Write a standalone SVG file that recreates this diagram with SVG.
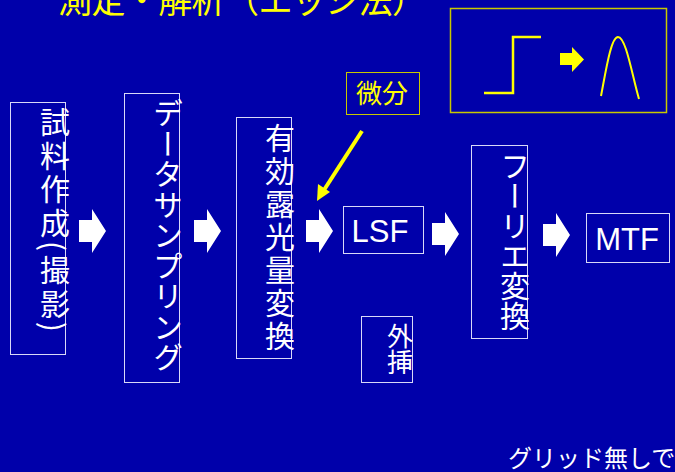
<svg xmlns="http://www.w3.org/2000/svg" width="675" height="472" viewBox="0 0 675 472">
<defs>
<style>
.box{fill:none;stroke:#d8d8f8;stroke-width:1}
.jp{font-family:"Noto Sans CJK JP","Liberation Sans",sans-serif;fill:#ffffff}
.vt{writing-mode:vertical-rl;font-size:30px}
.lat{font-family:"Liberation Sans",Arial,sans-serif;fill:#ffffff;font-size:31px}
.arrow{fill:#ffffff}
.yl{fill:none;stroke:#ffff00}
</style>
<path id="blk" d="M0,11 H13 V0 L27,22 L13,44 V33 H0 Z"/>
</defs>
<rect width="675" height="472" fill="#0000aa"/>
<text x="58" y="13" class="jp" style="font-size:34px;fill:#ffff00" textLength="368">測定・解析（エッジ法）</text>

<g id="inset">
<rect x="450.5" y="8.5" width="216" height="104" fill="none" stroke="#c8c800" stroke-width="1.5"/>
<polyline class="yl" stroke-width="2.5" points="484,93 513,93 513,37 541,37"/>
<path d="M560,53 H572 V47 L584,59.5 L572,72 V65 H560 Z" fill="#ffff00"/>
<path class="yl" stroke-width="2" d="M601,96 C606,70 611,37 618,37 C626,37 632,75 639,99"/>
</g>

<g id="node-sample">
<rect class="box" x="10.5" y="102.5" width="55" height="252"/>
<text class="jp vt" x="55" y="107" style="letter-spacing:3.5px">試料作成(撮影)</text>
</g>
<g id="node-sampling">
<rect class="box" x="124.5" y="93.5" width="55" height="289"/>
<text class="jp vt" x="168" y="98" style="letter-spacing:0.5px">データサンプリング</text>
</g>
<g id="node-exposure">
<rect class="box" x="236.5" y="117.5" width="55" height="241"/>
<text class="jp vt" x="280" y="123" style="letter-spacing:3px">有効露光量変換</text>
</g>
<g id="node-diff">
<rect x="346.5" y="72.5" width="73" height="42" fill="none" stroke="#c8c800" stroke-width="1"/>
<text class="jp" x="382" y="103" text-anchor="middle" style="font-size:26px;fill:#ffff00">微分</text>
</g>
<g id="node-lsf">
<rect class="box" x="343.5" y="206.5" width="80" height="47"/>
<text class="lat" x="380" y="242" text-anchor="middle">LSF</text>
</g>
<g id="node-extrap">
<rect class="box" x="361.5" y="316.5" width="51" height="66"/>
<text class="jp" x="400" y="323" style="writing-mode:vertical-rl;font-size:26px">外挿</text>
</g>
<g id="node-fourier">
<rect class="box" x="471.5" y="145.5" width="56" height="193"/>
<text class="jp vt" x="515" y="151">フーリエ変換</text>
</g>
<g id="node-mtf">
<rect class="box" x="586.5" y="213.5" width="83" height="49"/>
<text class="lat" x="627" y="250" text-anchor="middle">MTF</text>
</g>

<g id="connectors">
<use href="#blk" class="arrow" x="79" y="209"/>
<use href="#blk" class="arrow" x="194" y="209"/>
<use href="#blk" class="arrow" x="306" y="209"/>
<use href="#blk" class="arrow" x="432" y="212"/>
<use href="#blk" class="arrow" x="543" y="213"/>
<line x1="362" y1="131" x2="324" y2="190" stroke="#ffff00" stroke-width="4"/>
<path d="M317,201 L318,184 L330,192 Z" fill="#ffff00"/>
</g>

<text class="jp" x="508" y="467" style="font-size:24px">グリッド無しで</text>
</svg>
